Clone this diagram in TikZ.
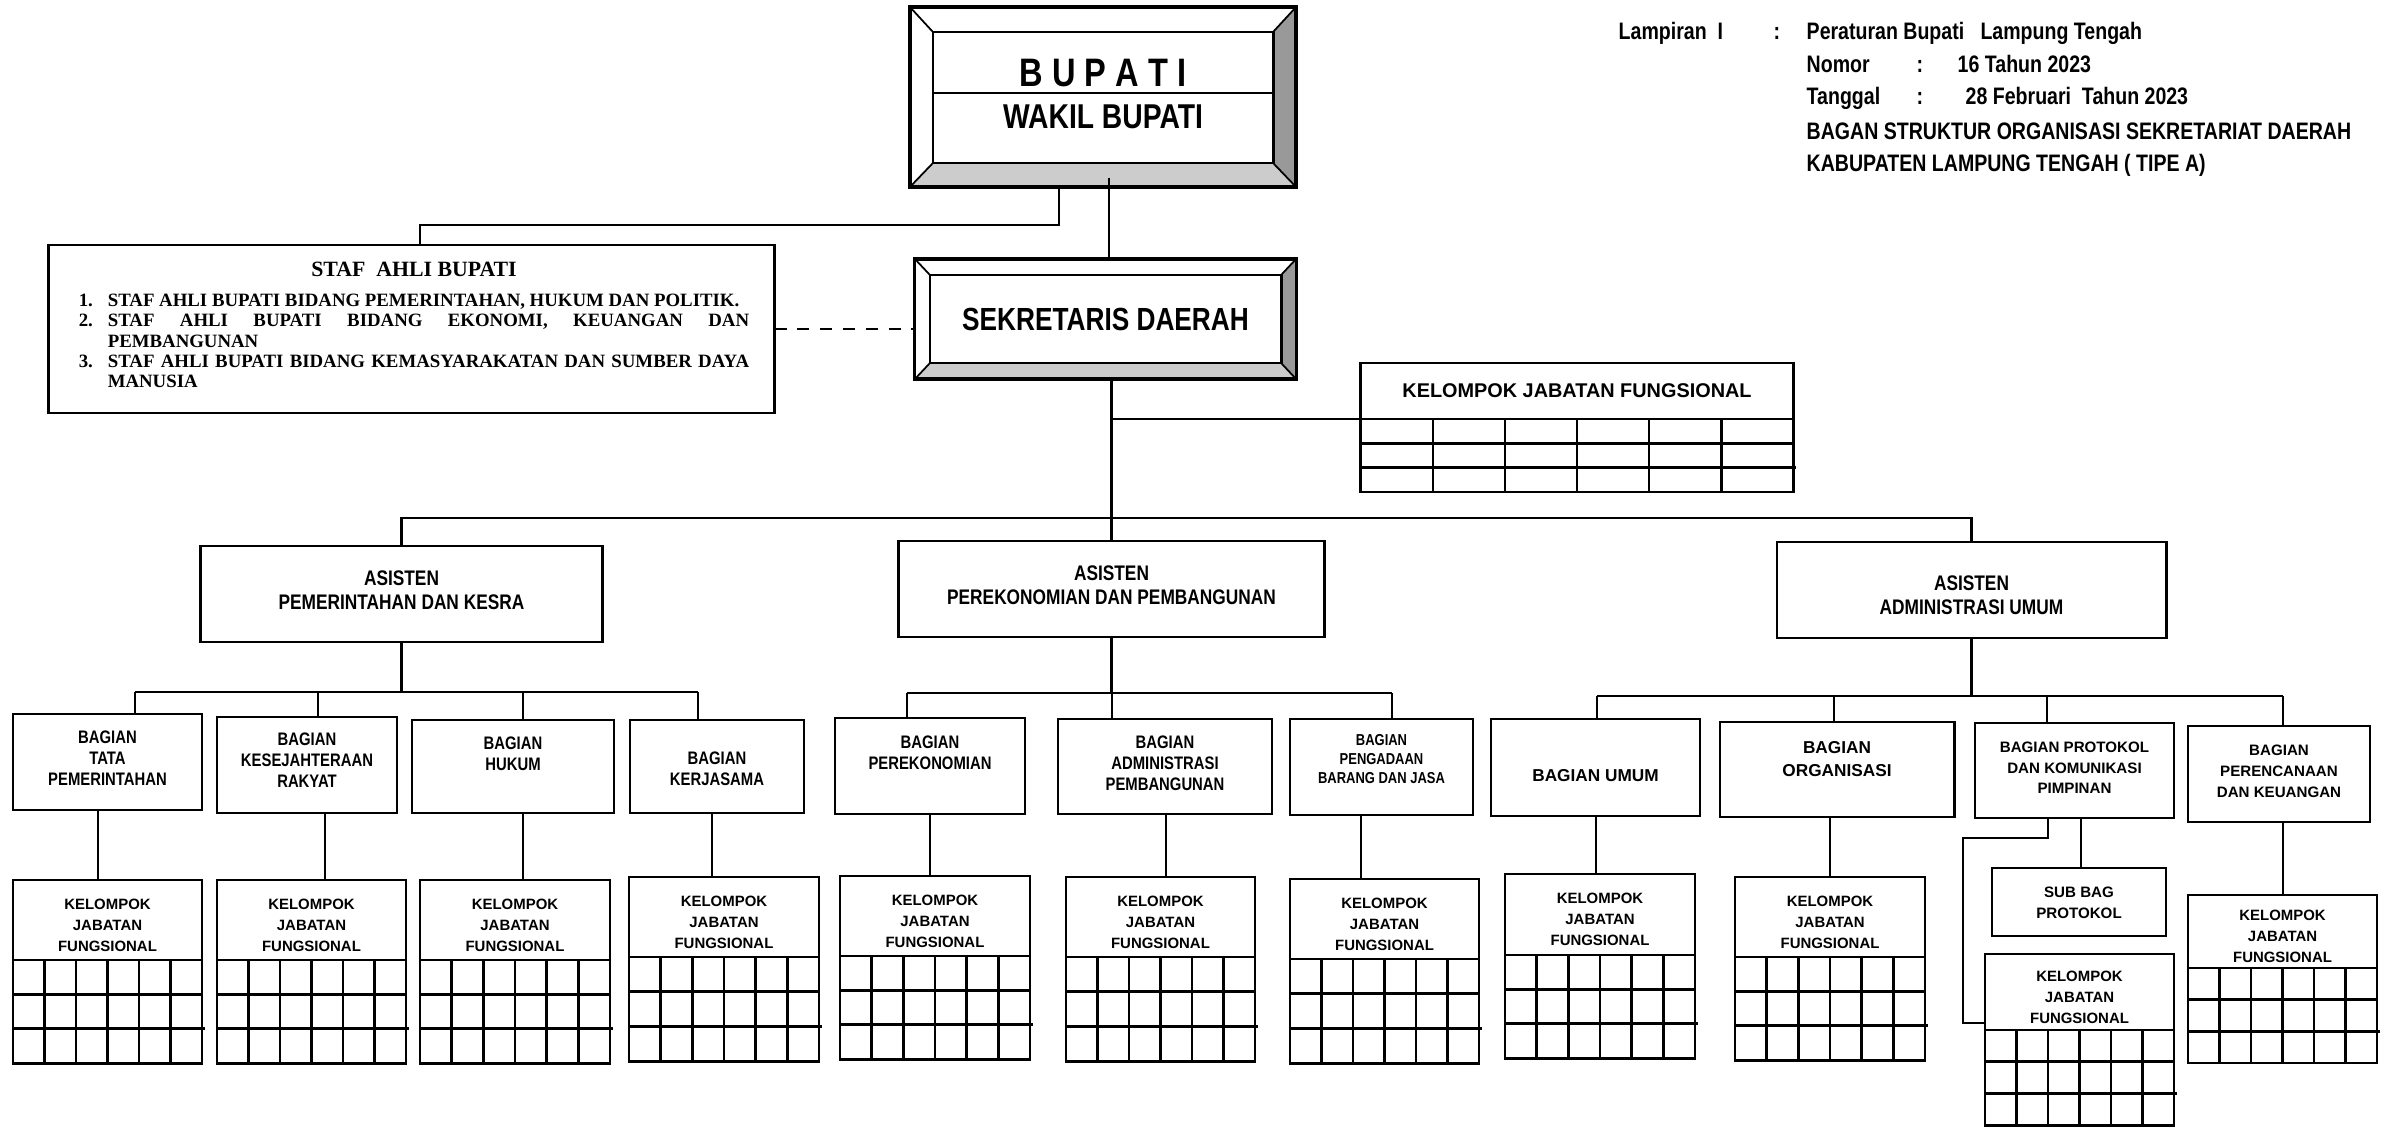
\documentclass[tikz,border=0pt]{standalone}
\usepackage{fontspec}
\setmainfont{Liberation Sans}
\newfontfamily\narrowsans[FakeStretch=0.82]{Liberation Sans}
\newfontfamily\timesfont{Liberation Serif}
\usetikzlibrary{calc, backgrounds}

\definecolor{beveldark}{HTML}{999999}
\definecolor{bevellight}{HTML}{CCCCCC}

% text block, lifted inside its box
\newcommand\up[2]{\raisebox{#1}[\height][\depth]{\begin{tabular}{@{}c@{}}#2\end{tabular}}}
\newcommand\kjftext{\up{-1.75pt}{KELOMPOK\\JABATAN\\FUNGSIONAL}}

% bevel of a framed box: #1 outer node, #2 inner node
\newcommand\bevel[2]{%
  \begin{scope}[on background layer]
    \fill[beveldark] (#1.north east) -- (#2.north east) -- (#2.south east) -- (#1.south east) -- cycle;
    \fill[bevellight] (#1.south west) -- (#2.south west) -- (#2.south east) -- (#1.south east) -- cycle;
  \end{scope}
  \draw[line width=0.5pt] (#1.north west) -- (#2.north west) (#1.north east) -- (#2.north east)
    (#1.south west) -- (#2.south west) (#1.south east) -- (#2.south east);
}

% grid under a kelompok header: #1 header node, #2 grid height
\newcommand\kjfgrid[2]{%
  \draw[gridline] (#1.south west) rectangle ([yshift=-#2]#1.south east);
  \foreach \r in {1,2}
    \draw[gridline] ([yshift=-\r*#2/3]#1.south west) -- ([yshift=-\r*#2/3, xshift={(\r-1)*0.03cm}]#1.south east);
  \foreach \c in {1,...,5}
    \draw[gridline] ($(#1.south west)!\c/6!(#1.south east)$) -- ++(0,-#2);
}

\tikzset{
  orgbox/.style={
    draw,
    line width=0.8pt,
    outer sep=0pt,
    inner sep=0pt
  },
%
  bevelbox/.style={
    orgbox,
    line width=#1
  },
  bevelbox/.default={1.1pt},
%
  headtext/.style={
    font=\narrowsans\bfseries\fontsize{6.78}{9}\selectfont,
    anchor=base west,
    inner sep=0pt
  },
%
  asisten/.style={
    orgbox,
    font=\narrowsans\bfseries\fontsize{6}{6.8}\selectfont
  },
%
  bagian/.style={
    orgbox,
    font=\narrowsans\bfseries\fontsize{5.15}{6}\selectfont
  },
%
  bagianwide/.style={
    orgbox,
    font=\bfseries\fontsize{4.3}{6}\selectfont
  },
%
  kjfhead/.style={
    orgbox,
    minimum width=1.9cm,
    minimum height=0.8cm,
    font=\bfseries\fontsize{4.25}{6}\selectfont
  },
%
  gridline/.style={
    line width=0.8pt
  },
%
  link/.style={
    line width=0.8pt
  },
%
  dashlink/.style={
    link,
    dash pattern=on 3.5pt off 3pt
  },
}

\begin{document}
\begin{tikzpicture}[x=0.01cm, y=-0.01cm]
\useasboundingbox (0,0) rectangle (2385,1127);

% lampiran
\node[headtext] at (1618,39.5) (lampiran) {Lampiran\ \ I};
\node[headtext] at (1773,39.5) (colA) {:};
\node[headtext] at (1806,39.5) (peraturan) {Peraturan Bupati\ \ \ Lampung Tengah};
\node[headtext] at (1806,72.5) (nomor) {Nomor};
\node[headtext] at (1916,72.5) (colB) {:};
\node[headtext] at (1957,72.5) (nomorVal) {16 Tahun 2023};
\node[headtext] at (1806,104.5) (tanggal) {Tanggal};
\node[headtext] at (1916,104.5) (colC) {:};
\node[headtext] at (1965,104.5) (tanggalVal) {28 Februari\ \ Tahun 2023};
\node[headtext] at (1806,139.5) (judulA) {BAGAN STRUKTUR ORGANISASI SEKRETARIAT DAERAH};
\node[headtext] at (1806,171.5) (judulB) {KABUPATEN LAMPUNG TENGAH ( TIPE A)};

% pimpinan
\node[bevelbox, minimum width=3.86cm, minimum height=1.8cm] at (1103,97) (bupati) {};
\node[orgbox, minimum width=3.4cm, minimum height=1.31cm] at (1103,97.5) (bupatiIn) {};
\bevel{bupati}{bupatiIn}
\coordinate (divider) at (1103,93);
\draw[link, line width=0.6pt] (divider -| bupatiIn.west) -- (divider -| bupatiIn.east);
\node[font=\narrowsans\bfseries\fontsize{11.3}{13}\selectfont] at (1103,73) (tBupati) {B U P A T I};
\node[font=\narrowsans\bfseries\fontsize{9.8}{12}\selectfont] at (1103,117) (tWakil) {WAKIL BUPATI};

\node[bevelbox=0.9pt, minimum width=3.81cm, minimum height=1.2cm] at (1105.5,319) (sekda) {};
\node[orgbox, minimum width=3.51cm, minimum height=0.88cm, font=\narrowsans\bfseries\fontsize{9.1}{11}\selectfont] at (1105.5,319) (sekdaIn) {SEKRETARIS DAERAH};
\bevel{sekda}{sekdaIn}

% staf ahli
\node[orgbox, minimum width=7.25cm, minimum height=1.68cm] at (411.5,329) (staf) {};
\node[text width=6.7cm, align=justify, inner sep=0pt, font=\timesfont\bfseries\fontsize{5.35}{5.75}\selectfont] at (414,325) (stafTxt) {%
  \lineskiplimit=-10pt\parindent=0pt
  {\centering\fontsize{6.2}{7}\selectfont STAF\ \ AHLI BUPATI\par}\vspace{2.75pt}
  \hangindent=0.29cm\hangafter=1 \makebox[0.29cm][l]{1.}STAF AHLI BUPATI BIDANG PEMERINTAHAN, HUKUM DAN POLITIK.\par
  \hangindent=0.29cm\hangafter=1 \makebox[0.29cm][l]{2.}STAF AHLI BUPATI BIDANG EKONOMI, KEUANGAN DAN\linebreak PEMBANGUNAN\par
  \hangindent=0.29cm\hangafter=1 \makebox[0.29cm][l]{3.}STAF AHLI BUPATI BIDANG KEMASYARAKATAN DAN SUMBER DAYA\linebreak MANUSIA\par};

\node[kjfhead, minimum width=4.32cm, minimum height=0.56cm, font=\bfseries\fontsize{5.65}{6.6}\selectfont] at (1577,391) (kjfSetda) {KELOMPOK JABATAN FUNGSIONAL};
\kjfgrid{kjfSetda}{0.73cm}

% asisten
\node[asisten, minimum width=4.01cm, minimum height=0.96cm] at (401.5,594) (asPem) {\up{0.4pt}{ASISTEN\\PEMERINTAHAN DAN KESRA}};
\node[asisten, minimum width=4.25cm, minimum height=0.96cm] at (1111.5,589) (asEko) {\up{0.3pt}{ASISTEN\\PEREKONOMIAN DAN PEMBANGUNAN}};
\node[asisten, minimum width=3.89cm, minimum height=0.96cm] at (1971.5,590) (asAdm) {\up{-2.1pt}{ASISTEN\\ADMINISTRASI UMUM}};

% bagian
\node[bagian, minimum width=1.89cm, minimum height=0.96cm] at (107.5,762) (bgTapem) {\up{0.4pt}{BAGIAN\\TATA\\PEMERINTAHAN}};
\node[bagian, minimum width=1.8cm, minimum height=0.96cm] at (307,765) (bgKesra) {\up{0.7pt}{BAGIAN\\KESEJAHTERAAN\\RAKYAT}};
\node[bagian, minimum width=2.02cm, minimum height=0.93cm] at (513,766.5) (bgHukum) {\up{3.1pt}{BAGIAN\\HUKUM}};
\node[bagian, minimum width=1.74cm, minimum height=0.93cm] at (717,766.5) (bgKerja) {\up{-1.3pt}{BAGIAN\\KERJASAMA}};
\node[bagian, minimum width=1.9cm, minimum height=0.96cm] at (930,766) (bgEko) {\up{3.3pt}{BAGIAN\\PEREKONOMIAN}};
\node[bagian, minimum width=2.14cm, minimum height=0.95cm] at (1165,766.5) (bgAdbang) {\up{0.4pt}{BAGIAN\\ADMINISTRASI\\PEMBANGUNAN}};
\node[bagian, minimum width=1.83cm, minimum height=0.96cm, font=\narrowsans\bfseries\fontsize{4.5}{5.4}\selectfont] at (1381.5,767) (bgPbj) {\up{1.9pt}{BAGIAN\\PENGADAAN\\BARANG DAN JASA}};
\node[bagianwide, minimum width=2.09cm, minimum height=0.97cm, font=\bfseries\fontsize{4.9}{6}\selectfont] at (1595.5,767.5) (bgUmum) {\up{-2.7pt}{BAGIAN UMUM}};
\node[bagianwide, minimum width=2.34cm, minimum height=0.95cm, font=\bfseries\fontsize{4.9}{6.5}\selectfont] at (1837,769.5) (bgOrg) {\up{2.7pt}{BAGIAN\\ORGANISASI}};
\node[bagianwide, minimum width=1.99cm, minimum height=0.95cm, font=\bfseries\fontsize{4.3}{5.8}\selectfont] at (2074.5,770.5) (bgProkopim) {\up{0.4pt}{BAGIAN PROTOKOL\\DAN KOMUNIKASI\\PIMPINAN}};
\node[bagianwide, minimum width=1.82cm, minimum height=0.96cm] at (2279,774) (bgRenkeu) {\up{0.6pt}{BAGIAN\\PERENCANAAN\\DAN KEUANGAN}};
\node[bagianwide, minimum width=1.74cm, minimum height=0.68cm] at (2079,902) (sbProtokol) {\up{-0.4pt}{SUB BAG\\PROTOKOL}};

% kelompok jabatan fungsional
\node[kjfhead, minimum width=1.89cm] at (107.5,920) (kjfTapem) {\kjftext};
\node[kjfhead, minimum width=1.89cm] at (311.5,920) (kjfKesra) {\kjftext};
\node[kjfhead] at (515,920) (kjfHukum) {\kjftext};
\node[kjfhead] at (724,917) (kjfKerja) {\kjftext};
\node[kjfhead] at (935,916) (kjfEko) {\kjftext};
\node[kjfhead, minimum width=1.89cm] at (1160.5,917) (kjfAdbang) {\kjftext};
\node[kjfhead, minimum width=1.89cm] at (1384.5,919) (kjfPbj) {\kjftext};
\node[kjfhead, minimum height=0.81cm] at (1600,914.5) (kjfUmum) {\kjftext};
\node[kjfhead] at (1830,917) (kjfOrg) {\kjftext};
\node[kjfhead, minimum width=1.89cm, minimum height=0.76cm] at (2079.5,992) (kjfProkopim) {\kjftext};
\node[kjfhead, minimum width=1.89cm, minimum height=0.73cm] at (2282.5,931.5) (kjfRenkeu) {\kjftext};

\kjfgrid{kjfTapem}{1.03cm}
\kjfgrid{kjfKesra}{1.03cm}
\kjfgrid{kjfHukum}{1.03cm}
\kjfgrid{kjfKerja}{1.04cm}
\kjfgrid{kjfEko}{1.03cm}
\kjfgrid{kjfAdbang}{1.04cm}
\kjfgrid{kjfPbj}{1.04cm}
\kjfgrid{kjfUmum}{1.03cm}
\kjfgrid{kjfOrg}{1.03cm}
\kjfgrid{kjfProkopim}{0.95cm}
\kjfgrid{kjfRenkeu}{0.95cm}

% garis pimpinan
\coordinate (bupSek) at (1109,178);
\draw[link] (bupSek) -- (bupSek |- sekda.north);
\coordinate (bupStaf) at (1059,225);
\coordinate (stafTop) at (420,225);
\draw[link] (bupStaf |- bupati.south) -- (bupStaf) -- (stafTop) -- (stafTop |- staf.north);
\draw[dashlink] (staf.east) -- (staf.east -| sekda.west);
\draw[link] (asEko.north |- sekda.south) -- (asEko.north);
\draw[link] (kjfSetda.south west) -- (kjfSetda.south west -| asEko.north);
\coordinate (busMain) at (0,518);
\draw[link] (asPem.north) -- (asPem.north |- busMain) -- (asAdm.north |- busMain) -- (asAdm.north);

% garis asisten ke bagian
\coordinate (dTapem) at (135,692);
\coordinate (dKesra) at (318,692);
\coordinate (dHukum) at (523,692);
\coordinate (dKerja) at (698,692);
\coordinate (dEko) at (907,693);
\coordinate (dAdbang) at (1112,693);
\coordinate (dPbj) at (1392,693);
\coordinate (dUmum) at (1597,696);
\coordinate (dOrg) at (1834,696);
\coordinate (dProkopim) at (2047,696);
\coordinate (dRenkeu) at (2283,696);
\draw[link] (dTapem) -- (dKerja);
\draw[link] (dEko) -- (dPbj);
\draw[link] (dUmum) -- (dRenkeu);
\draw[link] (asPem.south) -- (asPem.south |- dTapem);
\draw[link] (asEko.south) -- (asEko.south |- dEko);
\draw[link] (asAdm.south) -- (asAdm.south |- dUmum);
\foreach \d/\b in {dTapem/bgTapem, dKesra/bgKesra, dHukum/bgHukum, dKerja/bgKerja,
                   dEko/bgEko, dAdbang/bgAdbang, dPbj/bgPbj,
                   dUmum/bgUmum, dOrg/bgOrg, dProkopim/bgProkopim, dRenkeu/bgRenkeu}
  \draw[link] (\d) -- (\d |- \b.north);

% garis bagian ke kelompok
\foreach \x/\b/\k in {98/bgTapem/kjfTapem, 325/bgKesra/kjfKesra, 523/bgHukum/kjfHukum,
                      712/bgKerja/kjfKerja, 930/bgEko/kjfEko, 1166/bgAdbang/kjfAdbang,
                      1361/bgPbj/kjfPbj, 1596/bgUmum/kjfUmum, 1830/bgOrg/kjfOrg,
                      2081/bgProkopim/sbProtokol, 2283/bgRenkeu/kjfRenkeu}{
  \coordinate (vline) at (\x,0);
  \draw[link] (vline |- \b.south) -- (vline |- \k.north);
}
\coordinate (kpA) at (2048,838);
\coordinate (kpB) at (1963,838);
\coordinate (kpC) at (1963,1023);
\draw[link] (kpA |- bgProkopim.south) -- (kpA) -- (kpB) -- (kpC) -- (kpC -| kjfProkopim.west);

\end{tikzpicture}
\end{document}
